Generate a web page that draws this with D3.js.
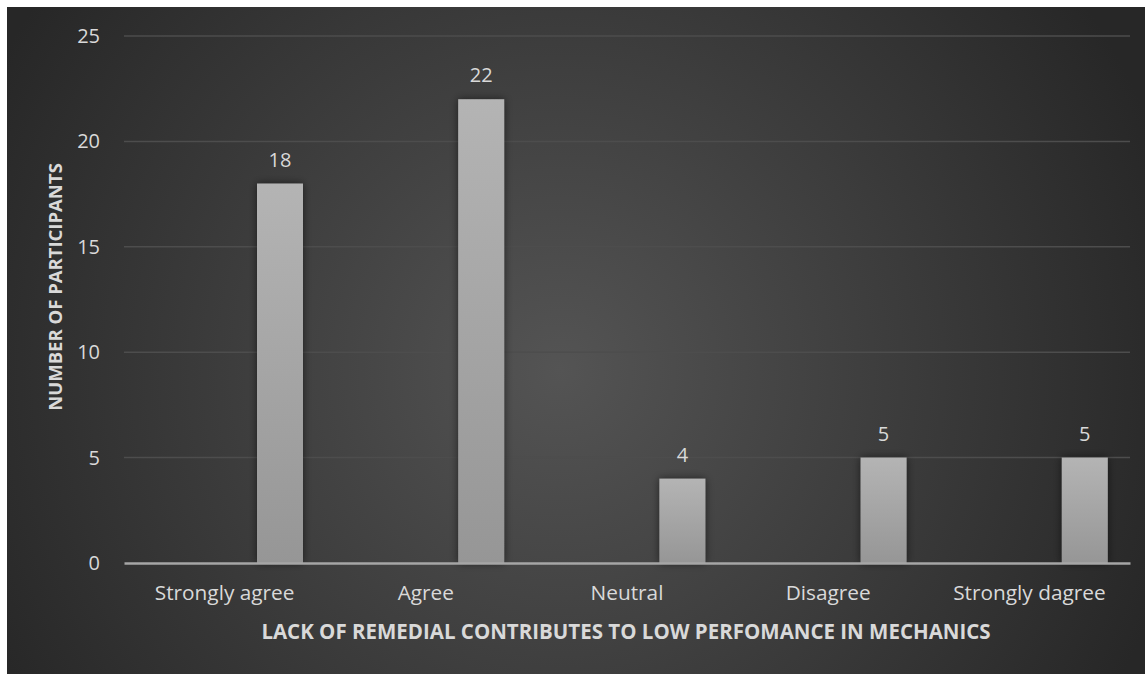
<!DOCTYPE html>
<html>
<head>
<meta charset="utf-8">
<script src="https://cdn.jsdelivr.net/npm/d3@7"></script>
<style>
  body { margin: 0; background: #ffffff; }
  svg { display: block; }
</style>
</head>
<body>
<div id="chart"></div>
<script>
// chart data
const categories = ["Strongly agree", "Agree", "Neutral", "Disagree", "Strongly dagree"];
const participants = [18, 22, 4, 5, 5];
const yTicks = [0, 5, 10, 15, 20, 25];
const xTitle = "LACK OF REMEDIAL CONTRIBUTES TO LOW PERFOMANCE IN MECHANICS";
const yTitle = "NUMBER OF PARTICIPANTS";

const W = 1145, H = 674;
const margin = { top: 36, right: 15, bottom: 111, left: 124 };
const width = W - margin.left - margin.right,
    height = H - margin.top - margin.bottom;

const svg = d3.select("#chart")
    .append("svg")
    .attr("width", W)
    .attr("height", H);

const defs = svg.append("defs");

// background gradient
const bg = defs.append("radialGradient")
    .attr("id", "bg-grad")
    .attr("gradientUnits", "userSpaceOnUse")
    .attr("cx", 560).attr("cy", 370).attr("r", 640);
bg.append("stop").attr("offset", "0%").attr("stop-color", "#545454");
bg.append("stop").attr("offset", "100%").attr("stop-color", "#272727");

// bar gradient
const barGrad = defs.append("linearGradient")
    .attr("id", "bar-grad")
    .attr("x1", 0).attr("y1", 0).attr("x2", 0).attr("y2", 1);
barGrad.append("stop").attr("offset", "0%").attr("stop-color", "#b4b4b4");
barGrad.append("stop").attr("offset", "100%").attr("stop-color", "#969696");

const shadow = defs.append("filter")
    .attr("id", "bar-shadow")
    .attr("x", "-50%").attr("y", "-20%").attr("width", "200%").attr("height", "140%");
shadow.append("feDropShadow")
    .attr("dx", 0).attr("dy", 0)
    .attr("stdDeviation", 4)
    .attr("flood-color", "#000")
    .attr("flood-opacity", 0.55);

svg.append("rect")
    .attr("x", 7).attr("y", 7)
    .attr("width", W - 7).attr("height", H - 7)
    .attr("fill", "url(#bg-grad)");

const g = svg.append("g")
    .attr("transform", `translate(${margin.left},${margin.top})`);

// scales
const x = d3.scaleBand()
    .domain(categories)
    .range([0, width])
    .padding(0);

const y = d3.scaleLinear()
    .domain([0, 25])
    .range([height, 0]);

// bar sits at the right part of each category slot
const barOffset = 0.661, barWidth = 0.2286;

// gridlines
g.append("g")
    .selectAll("line")
    .data(yTicks.filter(d => d > 0))
    .join("line")
    .attr("x1", 0).attr("x2", width)
    .attr("y1", d => y(d)).attr("y2", d => y(d))
    .attr("stroke", "#4d4d4d")
    .attr("stroke-width", 1.5);

// y tick labels
const yAxis = g.append("g")
    .call(d3.axisLeft(y).tickValues(yTicks).tickSize(0).tickPadding(24));
yAxis.select(".domain").remove();
yAxis.selectAll("text")
    .attr("fill", "#d9d9d9")
    .style("font-family", "'Open Sans', sans-serif")
    .style("font-size", "20px");

// bars
g.selectAll(".bar")
    .data(participants)
    .join("rect")
    .attr("class", "bar")
    .attr("x", (d, i) => x(categories[i]) + x.bandwidth() * barOffset)
    .attr("y", d => y(d))
    .attr("width", x.bandwidth() * barWidth)
    .attr("height", d => y(0) - y(d))
    .attr("fill", "url(#bar-grad)")
    .attr("filter", "url(#bar-shadow)");

// data labels
g.selectAll(".label")
    .data(participants)
    .join("text")
    .attr("class", "label")
    .attr("x", (d, i) => x(categories[i]) + x.bandwidth() * (barOffset + barWidth / 2))
    .attr("y", d => y(d) - 17)
    .attr("text-anchor", "middle")
    .attr("fill", "#d9d9d9")
    .style("font-family", "'Open Sans', sans-serif")
    .style("font-size", "20px")
    .text(d => d);

// x axis
const xAxis = g.append("g")
    .attr("transform", `translate(0,${height})`)
    .call(d3.axisBottom(x).tickSize(0).tickPadding(22));
xAxis.select(".domain")
    .attr("stroke", "#a6a6a6")
    .attr("stroke-width", 2.5);
xAxis.selectAll("text")
    .attr("fill", "#d9d9d9")
    .style("font-family", "'Open Sans', sans-serif")
    .style("font-size", "20.8px");

// axis titles
svg.append("text")
    .attr("x", margin.left + width / 2 - 1)
    .attr("y", 639)
    .attr("text-anchor", "middle")
    .attr("fill", "#d9d9d9")
    .style("font-family", "'Open Sans', sans-serif")
    .style("font-weight", "bold")
    .style("font-size", "20.5px")
    .text(xTitle);

svg.append("text")
    .attr("transform", `translate(62,287) rotate(-90)`)
    .attr("text-anchor", "middle")
    .attr("fill", "#d9d9d9")
    .style("font-family", "'Open Sans', sans-serif")
    .style("font-weight", "bold")
    .style("font-size", "18.5px")
    .text(yTitle);
</script>
</body>
</html>
